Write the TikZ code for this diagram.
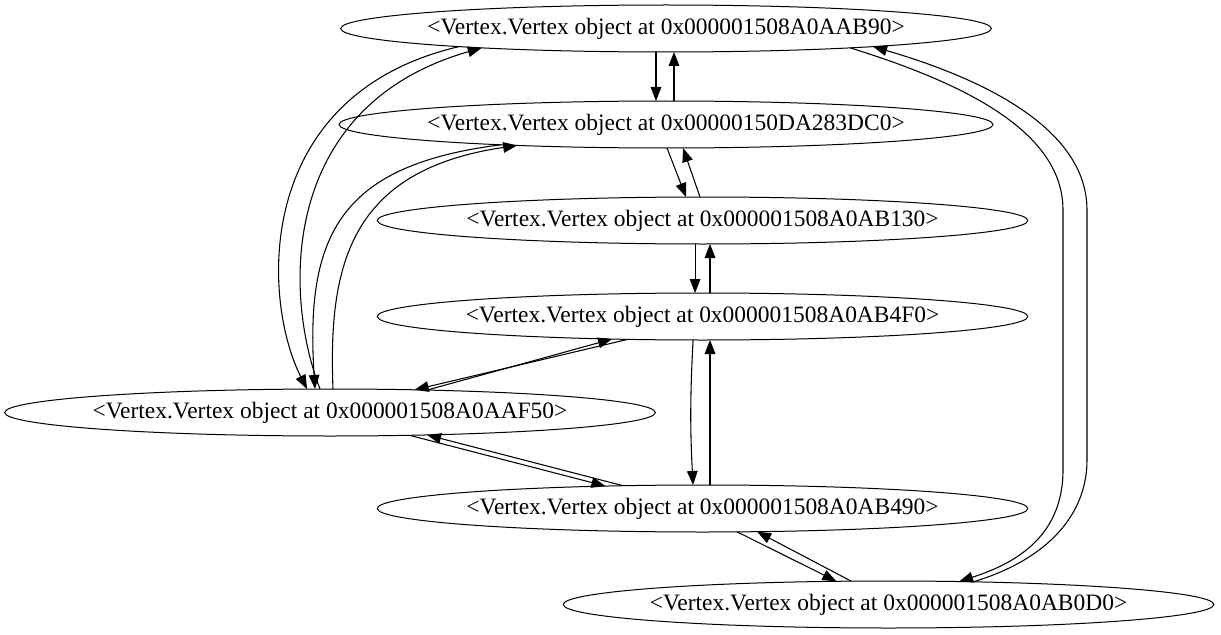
\documentclass[tikz,border=0pt]{standalone}
\usepackage{fontspec}
\setmainfont{Liberation Serif}
\usetikzlibrary{shapes.geometric, arrows.meta, positioning}
\newcommand{\vtext}[1]{\makebox[0pt]{#1}}

\begin{document}
\begin{tikzpicture}[x=0.75pt, y=-0.75pt,
        vertex/.style={draw, ellipse, line width=0.75pt, minimum width=488pt, minimum height=35.25pt, inner sep=0pt, outer sep=0pt, font=\fontsize{17.6}{20}\selectfont},
        arr/.style={-{Triangle[length=10.5pt, width=8pt]}, line width=0.8pt}
    ]
        \useasboundingbox (0,0) rectangle (1221,635);
        \node[vertex] (a) at (666,28.5) {\vtext{<Vertex.Vertex object at 0x000001508A0AAB90>}};
        \node[vertex, minimum width=490.5pt, below=36.75pt of a] (b) {\vtext{<Vertex.Vertex object at 0x00000150DA283DC0>}};
        \node[vertex, below=36.75pt of b, xshift=27.4pt] (c) {\vtext{<Vertex.Vertex object at 0x000001508A0AB130>}};
        \node[vertex, below=36.75pt of c] (d) {\vtext{<Vertex.Vertex object at 0x000001508A0AB4F0>}};
        \node[vertex, below=36.75pt of d, xshift=-279.4pt] (e) {\vtext{<Vertex.Vertex object at 0x000001508A0AAF50>}};
        \node[vertex, below=36.75pt of e, xshift=279.4pt] (f) {\vtext{<Vertex.Vertex object at 0x000001508A0AB490>}};
        \node[vertex, below=36.75pt of f, xshift=139.5pt] (g) {\vtext{<Vertex.Vertex object at 0x000001508A0AB0D0>}};
        \draw[arr] ([xshift=-7.5pt]a.south) -- ([xshift=-7.5pt]b.north);
        \draw[arr] ([xshift=6pt]b.north) -- ([xshift=6pt]a.south);
        \draw[arr] ([xshift=0.75pt]b.south) -- ([xshift=-12.4pt]c.north);
        \draw[arr] ([xshift=-1.9pt]c.north) -- ([xshift=12.75pt]b.south);
        \draw[arr] ([xshift=-5.6pt]c.south) -- ([xshift=-5.6pt]d.north);
        \draw[arr] ([xshift=5.6pt]d.north) -- ([xshift=5.6pt]c.south);
        \draw[arr] ([xshift=-7.1pt]d.south) to[bend right=3] ([xshift=-7.1pt]f.north);
        \draw[arr] ([xshift=5.6pt]f.north) -- ([xshift=5.6pt]d.south);
        \draw[arr] (d.197.1) -- (e.15.9);
        \draw[arr] (e.13.8) -- (d.194.3);
        \draw[arr] (e.344.1) -- (f.167.2);
        \draw[arr] (f.164.4) -- (e.347.1);
        \draw[arr] (f.326.7) -- (g.156.6);
        \draw[arr] (g.148.1) -- (f.337.0);
        \draw[arr] (a.185.5) .. controls (252,95) and (262,300) .. ([xshift=-17.25pt]e.north);
        \draw[arr] ([xshift=-7.5pt]e.north) .. controls (282,290) and (282,105) .. (a.186.2);
        \draw[arr] (b.187.4) .. controls (340,165) and (305,235) .. ([xshift=-11.25pt]e.north);
        \draw[arr] ([xshift=2.25pt]e.north) .. controls (328,265) and (350,170) .. (b.188.5);
        \draw[arr] (a.354.4) .. controls (960,82) and (1063,130) .. (1063,210) -- (1063,470) .. controls (1063,540) and (1010,565) .. (g.18.5);
        \draw[arr] (g.15.6) .. controls (1040,562) and (1087,520) .. (1087,460) -- (1087,210) .. controls (1087,120) and (960,72) .. (a.355.0);
    \end{tikzpicture}
\end{document}
